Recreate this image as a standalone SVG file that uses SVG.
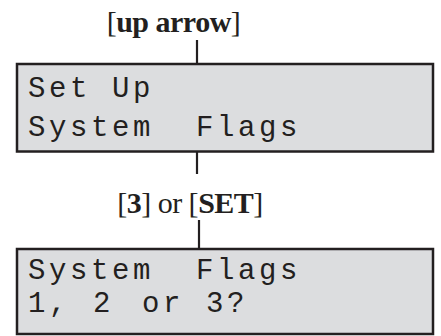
<svg xmlns="http://www.w3.org/2000/svg" width="441" height="336" viewBox="0 0 441 336">
  <style>
    .box { fill: #dcdddf; stroke: #231f20; stroke-width: 2.5; }
    .lcd { font-family: "Liberation Mono", "Courier New", monospace; font-size: 29px; letter-spacing: 3.6px; fill: #231f20; }
    .lbl { font-family: "Liberation Serif", "Times New Roman", serif; font-size: 30px; letter-spacing: -0.5px; fill: #231f20; }
    .b { font-weight: bold; }
    .conn { stroke: #231f20; stroke-width: 2.2; fill: none; }
  </style>
  <g id="connectors">
    <line class="conn" x1="197" y1="40" x2="197" y2="64"/>
    <line class="conn" x1="197" y1="152" x2="197" y2="174"/>
    <line class="conn" x1="199" y1="220" x2="199" y2="249"/>
  </g>
  <g id="label-up-arrow">
    <text class="lbl" x="173.5" y="32" text-anchor="middle">[<tspan class="b">up arrow</tspan>]</text>
  </g>
  <g id="label-3-or-set">
    <text class="lbl" x="190" y="213" text-anchor="middle">[<tspan class="b">3</tspan>] or [<tspan class="b">SET</tspan>]</text>
  </g>
  <g id="node-setup">
    <rect class="box" x="17" y="64" width="416" height="87.5"/>
    <text class="lcd" x="28" y="97">Set<tspan x="112">Up</tspan></text>
    <text class="lcd" x="28" y="136">System<tspan x="196">Flags</tspan></text>
  </g>
  <g id="node-flags">
    <rect class="box" x="17" y="249" width="416" height="85"/>
    <text class="lcd" x="28" y="279">System<tspan x="196">Flags</tspan></text>
    <text class="lcd" x="28" y="312">1,<tspan x="93">2</tspan><tspan x="142">or</tspan><tspan x="206">3?</tspan></text>
  </g>
</svg>
